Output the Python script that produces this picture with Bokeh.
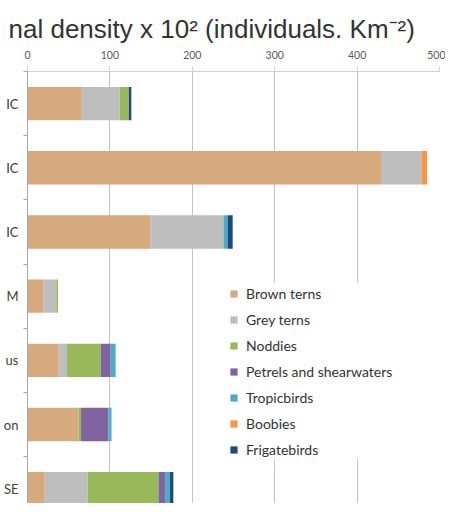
from bokeh.plotting import figure
from bokeh.models import Range1d, FixedTicker, ColumnDataSource, Title
from bokeh.embed import file_html
from bokeh.resources import INLINE

# --- data ---
sites = ["IC", "IC ", "IC  ", "M", "us", "on", "SE"]
series = ["Brown terns", "Grey terns", "Noddies", "Petrels and shearwaters",
          "Tropicbirds", "Boobies", "Frigatebirds"]
brown_terns = [66, 430, 149, 19, 38, 62, 21]
grey_terns = [46, 48, 89, 16, 10, 0, 52]
noddies = [11, 0, 0, 2, 41, 3, 86]
petrels = [0, 0, 0, 0, 12, 33, 8]
tropicbirds = [0, 0, 5, 0, 6, 4, 6]
boobies = [0, 7, 0, 0, 0, 0, 0]
frigatebirds = [3, 0, 6, 0, 0, 0, 4]
x_ticks = [0, 100, 200, 300, 400, 500]
title_text = "nal density x 10\u00b2 (individuals. Km\u207b\u00b2)"

colors = ["#d6aa7d", "#bebebe", "#98b95a", "#8064a2", "#4bacc6", "#f79646", "#1f497d"]
keys = ["brown", "grey", "noddies", "petrels", "tropic", "boobies", "frigate"]

pos = list(range(len(sites)))
source = ColumnDataSource(dict(
    y=pos, brown=brown_terns, grey=grey_terns, noddies=noddies, petrels=petrels,
    tropic=tropicbirds, boobies=boobies, frigate=frigatebirds))

p = figure(frame_width=412, frame_height=432, output_backend="svg", toolbar_location=None,
           x_range=Range1d(0, 500), y_range=Range1d(6.23, -0.5),
           x_axis_location="above", title=None,
           min_border_left=18, min_border_right=6, min_border_top=0,
           min_border_bottom=0)
p.outline_line_color = None

title = Title(text=title_text, text_font="Liberation Sans", text_font_size="26px",
              text_font_style="normal", text_color="#333333", align="left",
              offset=-19, standoff=8)
p.add_layout(title, "above")
spacer = Title(text=" ", text_font_size="4px", standoff=0)
p.add_layout(spacer, "above")

p.hbar_stack(keys, y="y", height=0.52, color=colors, source=source,
             legend_label=series, line_color=None)

# x axis (top)
xa = p.xaxis[0]
xa.ticker = FixedTicker(ticks=x_ticks)
xa.major_label_text_font = "Lato"
xa.major_label_text_font_size = "10.5px"
xa.major_label_text_color = "#595959"
xa.axis_line_color = "#d0d0d0"
xa.major_tick_line_color = "#d0d0d0"
xa.major_tick_out = 5
xa.major_tick_in = 0
xa.minor_tick_line_color = None
xa.major_label_standoff = 8

# y axis (left)
ya = p.yaxis[0]
ya.ticker = FixedTicker(ticks=pos, minor_ticks=[i - 0.5 for i in range(len(sites) + 1)])
ya.major_label_overrides = {i: s.strip() for i, s in enumerate(sites)}
ya.major_label_text_font = "Lato"
ya.major_label_text_font_size = "13px"
ya.major_label_text_color = "#404040"
ya.axis_line_color = "#a8a8a8"
ya.major_tick_line_color = None
ya.major_tick_out = 0
ya.major_tick_in = 0
ya.minor_tick_line_color = "#a8a8a8"
ya.minor_tick_out = 4
ya.minor_tick_in = 0
ya.major_label_standoff = 5

p.xgrid.grid_line_color = "#c4c4c4"
p.ygrid.grid_line_color = None

lg = p.legend[0]
lg.location = (202, 44)
lg.label_text_font = "Lato"
lg.label_text_font_size = "14px"
lg.label_text_color = "#333333"
lg.glyph_width = 9
lg.glyph_height = 9
lg.label_standoff = 8
lg.label_height = 20
lg.spacing = 6
lg.padding = 8
lg.margin = 0
lg.border_line_color = None
lg.background_fill_color = "white"
lg.background_fill_alpha = 1.0

open("out.html", "w").write(file_html(p, INLINE))
